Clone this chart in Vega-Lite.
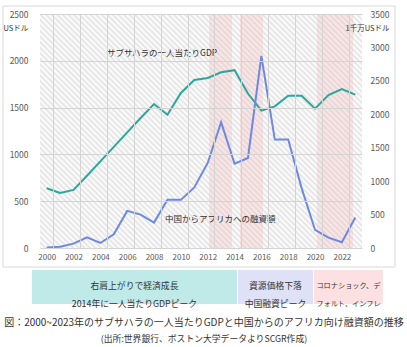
{
  "$schema": "https://vega.github.io/schema/vega-lite/v6.json",
  "width": 322,
  "height": 234,
  "autosize": {"type": "none"},
  "padding": {"left": 40, "top": 14, "right": 45, "bottom": 99},
  "background": "white",
  "config": {
    "view": {"stroke": null},
    "font": "Noto Sans CJK JP",
    "text": {"font": "Noto Sans CJK JP"}
  },
  "title": {
    "text": "図：2000~2023年のサブサハラの一人当たりGDPと中国からのアフリカ向け融資額の推移",
    "subtitle": "(出所:世界銀行、ボストン大学データよりSCGR作成)",
    "orient": "bottom",
    "anchor": "middle",
    "frame": "group",
    "font": "Noto Sans CJK JP",
    "subtitleFont": "Noto Sans CJK JP",
    "fontSize": 10,
    "fontWeight": "normal",
    "color": "#333333",
    "subtitleFontSize": 8.8,
    "subtitleColor": "#333333",
    "offset": 9,
    "subtitlePadding": 7,
    "dx": 3
  },
  "datasets": {
    "series": [
      {"year": 2000, "gdp": 639, "loan": 8},
      {"year": 2001, "gdp": 587, "loan": 20},
      {"year": 2002, "gdp": 621, "loan": 65},
      {"year": 2003, "gdp": 772, "loan": 160},
      {"year": 2004, "gdp": 925, "loan": 75},
      {"year": 2005, "gdp": 1080, "loan": 205},
      {"year": 2006, "gdp": 1235, "loan": 555},
      {"year": 2007, "gdp": 1389, "loan": 500},
      {"year": 2008, "gdp": 1538, "loan": 380},
      {"year": 2009, "gdp": 1424, "loan": 720},
      {"year": 2010, "gdp": 1656, "loan": 720},
      {"year": 2011, "gdp": 1795, "loan": 905},
      {"year": 2012, "gdp": 1817, "loan": 1272},
      {"year": 2013, "gdp": 1877, "loan": 1880},
      {"year": 2014, "gdp": 1900, "loan": 1261},
      {"year": 2015, "gdp": 1650, "loan": 1347},
      {"year": 2016, "gdp": 1468, "loan": 2873},
      {"year": 2017, "gdp": 1513, "loan": 1622},
      {"year": 2018, "gdp": 1626, "loan": 1622},
      {"year": 2019, "gdp": 1626, "loan": 896},
      {"year": 2020, "gdp": 1489, "loan": 270},
      {"year": 2021, "gdp": 1633, "loan": 155},
      {"year": 2022, "gdp": 1699, "loan": 85},
      {"year": 2023, "gdp": 1638, "loan": 455}
    ],
    "bands": [
      {"start": 2012.1, "end": 2013.81},
      {"start": 2014.41, "end": 2016.12},
      {"start": 2020.15, "end": 2022.83}
    ],
    "notes": [
      {"period": "a", "from": 1998.9, "to": 2014.18, "mid": 2006.54, "note": "右肩上がりで経済成長\n2014年に一人当たりGDPピーク"},
      {"period": "b", "from": 2014.26, "to": 2019.85, "mid": 2017.05, "note": "資源価格下落\n中国融資ピーク"},
      {"period": "c", "from": 2019.92, "to": 2025.06, "mid": 2022.49, "note": "コロナショック、デ\nフォルト、インフレ"}
    ],
    "gdpLabel": [{"year": 2004.49, "gdp": 2083, "label": "サブサハラの一人当たりGDP"}],
    "loanLabel": [{"year": 2008.82, "loan": 434, "label": "中国からアフリカへの融資額"}]
  },
  "layer": [
    {
      "layer": [
        {
          "data": {"values": [{}]},
          "mark": {"type": "rect", "fillOpacity": 0, "stroke": "#d9d9d9", "strokeWidth": 1, "clip": false},
          "encoding": {
            "x": {"datum": 1996.74, "type": "quantitative", "scale": {"domain": [1999.5, 2023.5], "nice": false, "zero": false}},
            "x2": {"datum": 2025.96},
            "y": {"datum": 2585, "type": "quantitative", "scale": {"domain": [0, 2500], "nice": false, "zero": false}},
            "y2": {"datum": -203}
          }
        },
        {
          "data": {"values": [{}]},
          "mark": {
            "type": "rect",
            "color": {
              "gradient": "linear",
              "x1": 0, "y1": 1, "x2": 1.1307, "y2": 0.1802,
              "stops": [
                {"offset": 0, "color": "#e3e3e3"}, {"offset": 0.005, "color": "#ffffff"},
                {"offset": 0.01, "color": "#e3e3e3"}, {"offset": 0.015, "color": "#ffffff"},
                {"offset": 0.02, "color": "#e3e3e3"}, {"offset": 0.025, "color": "#ffffff"},
                {"offset": 0.03, "color": "#e3e3e3"}, {"offset": 0.035, "color": "#ffffff"},
                {"offset": 0.04, "color": "#e3e3e3"}, {"offset": 0.045, "color": "#ffffff"},
                {"offset": 0.05, "color": "#e3e3e3"}, {"offset": 0.055, "color": "#ffffff"},
                {"offset": 0.06, "color": "#e3e3e3"}, {"offset": 0.065, "color": "#ffffff"},
                {"offset": 0.07, "color": "#e3e3e3"}, {"offset": 0.075, "color": "#ffffff"},
                {"offset": 0.08, "color": "#e3e3e3"}, {"offset": 0.085, "color": "#ffffff"},
                {"offset": 0.09, "color": "#e3e3e3"}, {"offset": 0.095, "color": "#ffffff"},
                {"offset": 0.1, "color": "#e3e3e3"}, {"offset": 0.105, "color": "#ffffff"},
                {"offset": 0.11, "color": "#e3e3e3"}, {"offset": 0.115, "color": "#ffffff"},
                {"offset": 0.12, "color": "#e3e3e3"}, {"offset": 0.125, "color": "#ffffff"},
                {"offset": 0.13, "color": "#e3e3e3"}, {"offset": 0.135, "color": "#ffffff"},
                {"offset": 0.14, "color": "#e3e3e3"}, {"offset": 0.145, "color": "#ffffff"},
                {"offset": 0.15, "color": "#e3e3e3"}, {"offset": 0.155, "color": "#ffffff"},
                {"offset": 0.16, "color": "#e3e3e3"}, {"offset": 0.165, "color": "#ffffff"},
                {"offset": 0.17, "color": "#e3e3e3"}, {"offset": 0.175, "color": "#ffffff"},
                {"offset": 0.18, "color": "#e3e3e3"}, {"offset": 0.185, "color": "#ffffff"},
                {"offset": 0.19, "color": "#e3e3e3"}, {"offset": 0.195, "color": "#ffffff"},
                {"offset": 0.2, "color": "#e3e3e3"}, {"offset": 0.205, "color": "#ffffff"},
                {"offset": 0.21, "color": "#e3e3e3"}, {"offset": 0.215, "color": "#ffffff"},
                {"offset": 0.22, "color": "#e3e3e3"}, {"offset": 0.225, "color": "#ffffff"},
                {"offset": 0.23, "color": "#e3e3e3"}, {"offset": 0.235, "color": "#ffffff"},
                {"offset": 0.24, "color": "#e3e3e3"}, {"offset": 0.245, "color": "#ffffff"},
                {"offset": 0.25, "color": "#e3e3e3"}, {"offset": 0.255, "color": "#ffffff"},
                {"offset": 0.26, "color": "#e3e3e3"}, {"offset": 0.265, "color": "#ffffff"},
                {"offset": 0.27, "color": "#e3e3e3"}, {"offset": 0.275, "color": "#ffffff"},
                {"offset": 0.28, "color": "#e3e3e3"}, {"offset": 0.285, "color": "#ffffff"},
                {"offset": 0.29, "color": "#e3e3e3"}, {"offset": 0.295, "color": "#ffffff"},
                {"offset": 0.3, "color": "#e3e3e3"}, {"offset": 0.305, "color": "#ffffff"},
                {"offset": 0.31, "color": "#e3e3e3"}, {"offset": 0.315, "color": "#ffffff"},
                {"offset": 0.32, "color": "#e3e3e3"}, {"offset": 0.325, "color": "#ffffff"},
                {"offset": 0.33, "color": "#e3e3e3"}, {"offset": 0.335, "color": "#ffffff"},
                {"offset": 0.34, "color": "#e3e3e3"}, {"offset": 0.345, "color": "#ffffff"},
                {"offset": 0.35, "color": "#e3e3e3"}, {"offset": 0.355, "color": "#ffffff"},
                {"offset": 0.36, "color": "#e3e3e3"}, {"offset": 0.365, "color": "#ffffff"},
                {"offset": 0.37, "color": "#e3e3e3"}, {"offset": 0.375, "color": "#ffffff"},
                {"offset": 0.38, "color": "#e3e3e3"}, {"offset": 0.385, "color": "#ffffff"},
                {"offset": 0.39, "color": "#e3e3e3"}, {"offset": 0.395, "color": "#ffffff"},
                {"offset": 0.4, "color": "#e3e3e3"}, {"offset": 0.405, "color": "#ffffff"},
                {"offset": 0.41, "color": "#e3e3e3"}, {"offset": 0.415, "color": "#ffffff"},
                {"offset": 0.42, "color": "#e3e3e3"}, {"offset": 0.425, "color": "#ffffff"},
                {"offset": 0.43, "color": "#e3e3e3"}, {"offset": 0.435, "color": "#ffffff"},
                {"offset": 0.44, "color": "#e3e3e3"}, {"offset": 0.445, "color": "#ffffff"},
                {"offset": 0.45, "color": "#e3e3e3"}, {"offset": 0.455, "color": "#ffffff"},
                {"offset": 0.46, "color": "#e3e3e3"}, {"offset": 0.465, "color": "#ffffff"},
                {"offset": 0.47, "color": "#e3e3e3"}, {"offset": 0.475, "color": "#ffffff"},
                {"offset": 0.48, "color": "#e3e3e3"}, {"offset": 0.485, "color": "#ffffff"},
                {"offset": 0.49, "color": "#e3e3e3"}, {"offset": 0.495, "color": "#ffffff"},
                {"offset": 0.5, "color": "#e3e3e3"}, {"offset": 0.505, "color": "#ffffff"},
                {"offset": 0.51, "color": "#e3e3e3"}, {"offset": 0.515, "color": "#ffffff"},
                {"offset": 0.52, "color": "#e3e3e3"}, {"offset": 0.525, "color": "#ffffff"},
                {"offset": 0.53, "color": "#e3e3e3"}, {"offset": 0.535, "color": "#ffffff"},
                {"offset": 0.54, "color": "#e3e3e3"}, {"offset": 0.545, "color": "#ffffff"},
                {"offset": 0.55, "color": "#e3e3e3"}, {"offset": 0.555, "color": "#ffffff"},
                {"offset": 0.56, "color": "#e3e3e3"}, {"offset": 0.565, "color": "#ffffff"},
                {"offset": 0.57, "color": "#e3e3e3"}, {"offset": 0.575, "color": "#ffffff"},
                {"offset": 0.58, "color": "#e3e3e3"}, {"offset": 0.585, "color": "#ffffff"},
                {"offset": 0.59, "color": "#e3e3e3"}, {"offset": 0.595, "color": "#ffffff"},
                {"offset": 0.6, "color": "#e3e3e3"}, {"offset": 0.605, "color": "#ffffff"},
                {"offset": 0.61, "color": "#e3e3e3"}, {"offset": 0.615, "color": "#ffffff"},
                {"offset": 0.62, "color": "#e3e3e3"}, {"offset": 0.625, "color": "#ffffff"},
                {"offset": 0.63, "color": "#e3e3e3"}, {"offset": 0.635, "color": "#ffffff"},
                {"offset": 0.64, "color": "#e3e3e3"}, {"offset": 0.645, "color": "#ffffff"},
                {"offset": 0.65, "color": "#e3e3e3"}, {"offset": 0.655, "color": "#ffffff"},
                {"offset": 0.66, "color": "#e3e3e3"}, {"offset": 0.665, "color": "#ffffff"},
                {"offset": 0.67, "color": "#e3e3e3"}, {"offset": 0.675, "color": "#ffffff"},
                {"offset": 0.68, "color": "#e3e3e3"}, {"offset": 0.685, "color": "#ffffff"},
                {"offset": 0.69, "color": "#e3e3e3"}, {"offset": 0.695, "color": "#ffffff"},
                {"offset": 0.7, "color": "#e3e3e3"}, {"offset": 0.705, "color": "#ffffff"},
                {"offset": 0.71, "color": "#e3e3e3"}, {"offset": 0.715, "color": "#ffffff"},
                {"offset": 0.72, "color": "#e3e3e3"}, {"offset": 0.725, "color": "#ffffff"},
                {"offset": 0.73, "color": "#e3e3e3"}, {"offset": 0.735, "color": "#ffffff"},
                {"offset": 0.74, "color": "#e3e3e3"}, {"offset": 0.745, "color": "#ffffff"},
                {"offset": 0.75, "color": "#e3e3e3"}, {"offset": 0.755, "color": "#ffffff"},
                {"offset": 0.76, "color": "#e3e3e3"}, {"offset": 0.765, "color": "#ffffff"},
                {"offset": 0.77, "color": "#e3e3e3"}, {"offset": 0.775, "color": "#ffffff"},
                {"offset": 0.78, "color": "#e3e3e3"}, {"offset": 0.785, "color": "#ffffff"},
                {"offset": 0.79, "color": "#e3e3e3"}, {"offset": 0.795, "color": "#ffffff"},
                {"offset": 0.8, "color": "#e3e3e3"}, {"offset": 0.805, "color": "#ffffff"},
                {"offset": 0.81, "color": "#e3e3e3"}, {"offset": 0.815, "color": "#ffffff"},
                {"offset": 0.82, "color": "#e3e3e3"}, {"offset": 0.825, "color": "#ffffff"},
                {"offset": 0.83, "color": "#e3e3e3"}, {"offset": 0.835, "color": "#ffffff"},
                {"offset": 0.84, "color": "#e3e3e3"}, {"offset": 0.845, "color": "#ffffff"},
                {"offset": 0.85, "color": "#e3e3e3"}, {"offset": 0.855, "color": "#ffffff"},
                {"offset": 0.86, "color": "#e3e3e3"}, {"offset": 0.865, "color": "#ffffff"},
                {"offset": 0.87, "color": "#e3e3e3"}, {"offset": 0.875, "color": "#ffffff"},
                {"offset": 0.88, "color": "#e3e3e3"}, {"offset": 0.885, "color": "#ffffff"},
                {"offset": 0.89, "color": "#e3e3e3"}, {"offset": 0.895, "color": "#ffffff"},
                {"offset": 0.9, "color": "#e3e3e3"}, {"offset": 0.905, "color": "#ffffff"},
                {"offset": 0.91, "color": "#e3e3e3"}, {"offset": 0.915, "color": "#ffffff"},
                {"offset": 0.92, "color": "#e3e3e3"}, {"offset": 0.925, "color": "#ffffff"},
                {"offset": 0.93, "color": "#e3e3e3"}, {"offset": 0.935, "color": "#ffffff"},
                {"offset": 0.94, "color": "#e3e3e3"}, {"offset": 0.945, "color": "#ffffff"},
                {"offset": 0.95, "color": "#e3e3e3"}, {"offset": 0.955, "color": "#ffffff"},
                {"offset": 0.96, "color": "#e3e3e3"}, {"offset": 0.965, "color": "#ffffff"},
                {"offset": 0.97, "color": "#e3e3e3"}, {"offset": 0.975, "color": "#ffffff"},
                {"offset": 0.98, "color": "#e3e3e3"}, {"offset": 0.985, "color": "#ffffff"},
                {"offset": 0.99, "color": "#e3e3e3"}, {"offset": 0.995, "color": "#ffffff"},
                {"offset": 1, "color": "#e3e3e3"}
              ]
            }
          },
          "encoding": {
            "x": {"datum": 1999.5, "type": "quantitative", "scale": {"domain": [1999.5, 2023.5], "nice": false, "zero": false}},
            "x2": {"datum": 2023.5},
            "y": {"datum": 0, "type": "quantitative", "scale": {"domain": [0, 2500], "nice": false, "zero": false}},
            "y2": {"datum": 2500}
          }
        },
        {
          "data": {"name": "bands"},
          "mark": {"type": "rect", "color": "#f4a6a6", "opacity": 0.25},
          "encoding": {
            "x": {"field": "start", "type": "quantitative", "scale": {"domain": [1999.5, 2023.5], "nice": false, "zero": false}},
            "x2": {"field": "end"},
            "y": {"datum": 0, "type": "quantitative", "scale": {"domain": [0, 2500], "nice": false, "zero": false}},
            "y2": {"datum": 2500}
          }
        },
        {
          "data": {"name": "series"},
          "mark": {"type": "line", "color": "#2ba89b", "strokeWidth": 2},
          "encoding": {
            "x": {
              "field": "year", "type": "quantitative",
              "scale": {"domain": [1999.5, 2023.5], "nice": false, "zero": false},
              "axis": {
                "title": null,
                "values": [2000, 2002, 2004, 2006, 2008, 2010, 2012, 2014, 2016, 2018, 2020, 2022],
                "tickCount": 30,
                "format": "d",
                "domain": false,
                "ticks": false,
                "grid": true,
                "gridColor": "#d4d4d4",
                "gridWidth": 1,
                "tickOffset": 6.708,
                "labelOffset": -6.708,
                "labelOverlap": false,
                "labelFont": "Noto Sans CJK JP",
                "labelFontSize": 8,
                "labelColor": "#595959",
                "labelPadding": 5,
                "zindex": 1
              }
            },
            "y": {
              "field": "gdp", "type": "quantitative",
              "scale": {"domain": [0, 2500], "nice": false, "zero": false},
              "axis": {
                "title": "USドル",
                "titleAngle": 0,
                "titleAlign": "left",
                "titleBaseline": "middle",
                "titleX": -37,
                "titleY": 14,
                "titleFont": "Noto Sans CJK JP",
                "titleFontSize": 7.5,
                "titleFontWeight": "normal",
                "titleColor": "#333333",
                "values": [0, 500, 1000, 1500, 2000, 2500],
                "tickCount": 12,
                "format": "d",
                "labelOverlap": false,
                "domain": false,
                "ticks": false,
                "grid": true,
                "gridColor": "#d4d4d4",
                "labelFont": "Noto Sans CJK JP",
                "labelFontSize": 8.5,
                "labelColor": "#595959",
                "labelPadding": 12,
                "zindex": 1
              }
            }
          }
        },
        {
          "data": {"name": "gdpLabel"},
          "mark": {"type": "text", "align": "left", "baseline": "middle", "fontSize": 8.5, "color": "#333333", "font": "Noto Sans CJK JP"},
          "encoding": {
            "x": {"field": "year", "type": "quantitative", "scale": {"domain": [1999.5, 2023.5], "nice": false, "zero": false}},
            "y": {"field": "gdp", "type": "quantitative", "scale": {"domain": [0, 2500], "nice": false, "zero": false}},
            "text": {"field": "label"}
          }
        },
        {
          "data": {"name": "notes"},
          "mark": {"type": "rect", "clip": false},
          "encoding": {
            "x": {"field": "from", "type": "quantitative", "scale": {"domain": [1999.5, 2023.5], "nice": false, "zero": false}},
            "x2": {"field": "to"},
            "y": {"datum": -235, "type": "quantitative", "scale": {"domain": [0, 2500], "nice": false, "zero": false}},
            "y2": {"datum": -598},
            "color": {"field": "period", "type": "nominal", "scale": {"domain": ["a", "b", "c"], "range": ["#bfeae8", "#dfe1f6", "#fde1e2"]}, "legend": null}
          }
        },
        {
          "data": {"name": "notes"},
          "mark": {"type": "text", "clip": false, "align": "center", "baseline": "middle", "lineBreak": "\n", "lineHeight": 18, "color": "#333333", "font": "Noto Sans CJK JP"},
          "encoding": {
            "x": {"field": "mid", "type": "quantitative", "scale": {"domain": [1999.5, 2023.5], "nice": false, "zero": false}},
            "y": {"datum": -406, "type": "quantitative", "scale": {"domain": [0, 2500], "nice": false, "zero": false}},
            "size": {"field": "period", "type": "nominal", "scale": {"type": "ordinal", "domain": ["a", "b", "c"], "range": [8.8, 8.8, 7.2]}, "legend": null},
            "text": {"field": "note"}
          }
        }
      ]
    },
    {
      "layer": [
        {
          "data": {"name": "series"},
          "mark": {"type": "line", "color": "#6f88e2", "strokeWidth": 2},
          "encoding": {
            "x": {"field": "year", "type": "quantitative", "scale": {"domain": [1999.5, 2023.5], "nice": false, "zero": false}},
            "y": {
              "field": "loan", "type": "quantitative",
              "scale": {"domain": [0, 3500], "nice": false, "zero": false},
              "axis": {
                "orient": "right",
                "title": "1千万USドル",
                "titleAngle": 0,
                "titleAlign": "left",
                "titleBaseline": "middle",
                "titleX": -17,
                "titleY": 14,
                "titleFont": "Noto Sans CJK JP",
                "titleFontSize": 7.5,
                "titleFontWeight": "normal",
                "titleColor": "#333333",
                "values": [0, 500, 1000, 1500, 2000, 2500, 3000, 3500],
                "tickCount": 16,
                "format": "d",
                "labelOverlap": false,
                "domain": false,
                "ticks": false,
                "grid": false,
                "labelFont": "Noto Sans CJK JP",
                "labelFontSize": 8.5,
                "labelColor": "#595959",
                "labelPadding": 8,
                "zindex": 1
              }
            }
          }
        },
        {
          "data": {"name": "loanLabel"},
          "mark": {"type": "text", "align": "left", "baseline": "middle", "fontSize": 8.5, "color": "#333333", "font": "Noto Sans CJK JP"},
          "encoding": {
            "x": {"field": "year", "type": "quantitative", "scale": {"domain": [1999.5, 2023.5], "nice": false, "zero": false}},
            "y": {"field": "loan", "type": "quantitative", "scale": {"domain": [0, 3500], "nice": false, "zero": false}},
            "text": {"field": "label"}
          }
        }
      ]
    }
  ],
  "resolve": {"scale": {"y": "independent"}, "axis": {"y": "independent"}}
}
